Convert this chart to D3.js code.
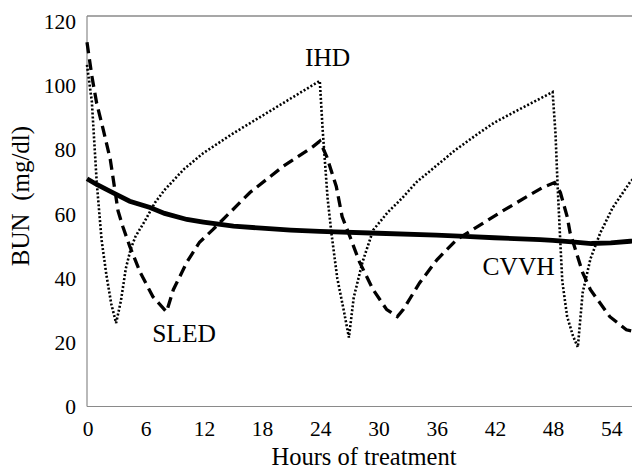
<!DOCTYPE html>
<html>
  <head>
    <meta charset="utf-8">
    <title>BUN by dialysis modality</title>
    <script src="https://d3js.org/d3.v7.min.js"></script>
    <style>
      body { margin: 0; background: #fff; }
      text { font-family: "Liberation Serif", "Times New Roman", serif; fill: #000; }
    </style>
  </head>
  <body>

  <div id="chart"></div>

  <script>

  // values (hours of treatment, BUN mg/dl)
  var ihdHours = [0, 0.5, 1, 1.5, 2, 2.5, 3, 3.5, 4, 4.5, 5, 5.5, 6, 7, 8, 10, 12, 15, 18, 21, 24,
                  24.3, 24.8, 25.2, 25.8, 26.5, 27, 27.5, 28.4, 29.5, 31, 32.5, 34, 36, 38, 40.3, 42, 44.5, 48,
                  48.3, 48.5, 48.75, 49, 49.5, 50.1, 50.6, 51.1, 51.9, 52.9, 54.2, 56, 57];
  var ihdBun   = [106.5, 95, 70, 52, 41, 32, 26, 33, 43, 49, 53, 55.5, 58, 63.5, 67.5, 74, 79, 85, 90.5, 96, 101.5,
                  86, 65, 54, 40, 29.5, 21.5, 34, 45, 55, 60.5, 65, 70, 75, 80, 85, 88.5, 92.5, 98,
                  85, 70, 54, 39, 28, 22, 18.5, 35.5, 46, 54, 62, 70, 73];

  var sledHours = [0, 0.5, 1, 1.7, 2.4, 3.2, 3.7, 4.4, 5.5, 6.8, 8.2, 8.9, 10.3, 11.6, 13, 16.8, 20.2, 23.3, 24,
                   24.7, 25.7, 26.3, 27.1, 28.1, 29.5, 30.9, 32, 32.6, 34.3, 36.1, 38.1, 39.8, 42.6, 45.4, 47, 48.2,
                   48.8, 49.5, 49.8, 51.1, 51.9, 53.9, 55.6, 56.2, 57];
  var sledBun   = [113.5, 103, 94.5, 86, 77, 61, 56, 50, 41.7, 34.2, 29.5, 36.4, 45, 51.2, 55.2, 66.7, 74.8, 81, 82.7,
                   78, 68.6, 59.2, 53, 45, 36.4, 30.2, 28, 30.2, 38.6, 45.8, 52, 55.2, 60.5, 65.5, 68.3, 69.8,
                   66.7, 59.2, 54.2, 41.7, 36.4, 28, 23.9, 23.5, 27];

  var cvvhHours = [0, 1, 2.7, 4.4, 6.5, 8, 10.3, 12, 15.1, 18, 21, 24, 30, 36, 39, 42, 46.7, 48, 50, 52, 54, 56, 57];
  var cvvhBun   = [71, 69.2, 66.6, 64, 62, 60.2, 58.3, 57.5, 56.2, 55.6, 55, 54.6, 54, 53.4, 53, 52.6, 52, 51.8, 51.3, 50.8, 51, 51.5, 51.6];

  var xTicks = [0, 6, 12, 18, 24, 30, 36, 42, 48, 54];
  var yTicks = [0, 20, 40, 60, 80, 100, 120];

  var labels = [ { text: "IHD", t: 24.8, v: 106 }, { text: "SLED", t: 10, v: 20 }, { text: "CVVH", t: 44.5, v: 41 } ];

  var width = 632, height = 469;
  var plot = { left: 87, top: 16, bottom: 406.5, right: 632 };

  var svg = d3.select("#chart").append("svg")
            .attr("width", width)
            .attr("height", height);

  var x = d3.scaleLinear().domain([0, 60]).range([plot.left, plot.left + 582]);
  var y = d3.scaleLinear().domain([0, 120]).range([plot.bottom, 21.5]);

  // frame: top border, left and bottom axis lines
  svg.append("line")
     .attr("x1", plot.left).attr("x2", plot.right)
     .attr("y1", plot.top).attr("y2", plot.top)
     .attr("stroke", "#8a8a8a").attr("stroke-width", 1.5);

  svg.append("g")
     .attr("transform", "translate(0," + plot.bottom + ")")
     .call(d3.axisBottom(x).tickValues(xTicks).tickSize(0).tickFormat(""))
     .call(function(g_){ g_.select(".domain").attr("d", "M" + plot.left + ",0H" + plot.right).attr("stroke", "#8a8a8a").attr("stroke-width", 1.2); });

  svg.append("g")
     .attr("transform", "translate(" + plot.left + ",0)")
     .call(d3.axisLeft(y).tickValues(yTicks).tickSize(0).tickFormat(""))
     .call(function(g_){ g_.select(".domain").attr("d", "M0," + plot.top + "V" + plot.bottom).attr("stroke", "#8a8a8a").attr("stroke-width", 1.2); });

  svg.selectAll(".xtick")
     .data(xTicks)
     .enter()
     .append("text")
     .attr("class", "xtick")
     .attr("x", function(d_){ return x(d_) + 1; })
     .attr("y", 436)
     .attr("text-anchor", "middle")
     .attr("font-size", 21.5)
     .text(function(d_){ return d_; });

  svg.selectAll(".ytick")
     .data(yTicks)
     .enter()
     .append("text")
     .attr("class", "ytick")
     .attr("x", 76)
     .attr("y", function(d_){ return y(d_); })
     .attr("dy", "0.35em")
     .attr("text-anchor", "end")
     .attr("font-size", 21.5)
     .text(function(d_){ return d_; });

  svg.append("text")
     .attr("x", 364)
     .attr("y", 465)
     .attr("text-anchor", "middle")
     .attr("font-size", 24.5)
     .text("Hours of treatment");

  svg.append("text")
     .attr("transform", "translate(28.5,196) rotate(-90)")
     .attr("text-anchor", "middle")
     .attr("font-size", 25)
     .style("white-space", "pre")
     .text("BUN  (mg/dl)");

  var line = d3.line()
      .x(function(d_){ return x(d_[0]); })
      .y(function(d_){ return y(d_[1]); });

  var series = [
    { hours: ihdHours, bun: ihdBun, width: 2.6, dash: "2,2" },
    { hours: sledHours, bun: sledBun, width: 3.3, dash: "11,6" },
    { hours: cvvhHours, bun: cvvhBun, width: 4.8, dash: null }
  ];

  svg.selectAll(".series")
     .data(series)
     .enter()
     .append("path")
     .attr("class", "series")
     .attr("fill", "none")
     .attr("stroke", "#000")
     .attr("stroke-width", function(d_){ return d_.width; })
     .attr("stroke-dasharray", function(d_){ return d_.dash; })
     .attr("d", function(d_){ return line(d_.hours.map(function(h_, i_){ return [h_, d_.bun[i_]]; })); });

  svg.selectAll(".label")
     .data(labels)
     .enter()
     .append("text")
     .attr("class", "label")
     .attr("x", function(d_){ return x(d_.t); })
     .attr("y", function(d_){ return y(d_.v); })
     .attr("text-anchor", "middle")
     .attr("font-size", 25.5)
     .text(function(d_){ return d_.text; });

  </script>

  </body>
</html>
